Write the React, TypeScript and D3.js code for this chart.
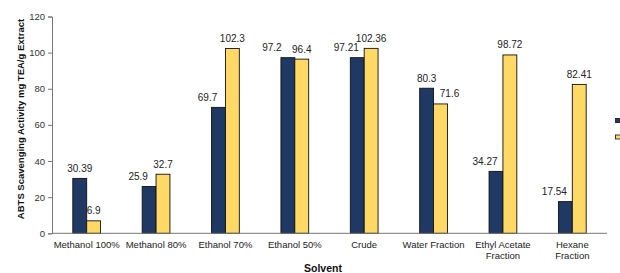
import React, { useEffect, useRef } from 'react';
import * as d3 from 'd3';

// Chart data
const solvents: string[][] = [
  ['Methanol 100%'],
  ['Methanol 80%'],
  ['Ethanol 70%'],
  ['Ethanol 50%'],
  ['Crude'],
  ['Water Fraction'],
  ['Ethyl Acetate', 'Fraction'],
  ['Hexane', 'Fraction'],
];
const seriesBlue = [30.39, 25.9, 69.7, 97.2, 97.21, 80.3, 34.27, 17.54];
const seriesYellow = [6.9, 32.7, 102.3, 96.4, 102.36, 71.6, 98.72, 82.41];
const yTicks = [0, 20, 40, 60, 80, 100, 120];

const WIDTH = 620;
const HEIGHT = 273;
const BLUE = '#1f3864';
const YELLOW = '#ffd966';
const FONT = '"Liberation Sans", Arial, sans-serif';

const App: React.FC = () => {
  const svgRef = useRef<SVGSVGElement>(null);

  useEffect(() => {
    if (!svgRef.current) return;
    const svg = d3.select(svgRef.current);
    svg.selectAll('*').remove();

    const left = 52;
    const right = 607;
    const top = 16.5;
    const bottom = 233.3;

    const x = d3.scaleBand<number>()
      .domain(d3.range(solvents.length))
      .range([left, right])
      .paddingInner(0.6)
      .paddingOuter(0.3);
    const inner = d3.scaleBand<string>()
      .domain(['blue', 'yellow'])
      .range([0, x.bandwidth()]);
    const y = d3.scaleLinear().domain([0, 120]).range([bottom, top]);

    // y axis
    const yAxis = svg.append('g')
      .attr('transform', `translate(${left},0)`)
      .call(d3.axisLeft(y).tickValues(yTicks).tickSize(4).tickPadding(3));
    yAxis.select('.domain').attr('stroke', '#777');
    yAxis.selectAll('.tick line').attr('stroke', '#777');
    yAxis.selectAll('.tick text')
      .attr('fill', '#333')
      .style('font-family', FONT)
      .style('font-size', '9.5px');

    // bars
    const groups = svg.append('g')
      .selectAll('g')
      .data(solvents.map((_, i) => i))
      .join('g')
      .attr('transform', i => `translate(${x(i)},0)`);

    const series = [
      { key: 'blue', values: seriesBlue, color: BLUE },
      { key: 'yellow', values: seriesYellow, color: YELLOW },
    ];

    series.forEach(s => {
      groups.append('rect')
        .attr('x', inner(s.key)!)
        .attr('y', i => y(s.values[i]))
        .attr('width', inner.bandwidth())
        .attr('height', i => bottom - y(s.values[i]))
        .attr('fill', s.color)
        .attr('stroke', '#111')
        .attr('stroke-width', 0.9);
    });

    // value labels, nudged apart where they would crowd each other
    const nudge = (i: number, key: string) => {
      const b = seriesBlue[i];
      const yv = seriesYellow[i];
      if (key === 'blue') {
        if (b <= yv + 1) return Math.abs(b - yv) < 2 ? -16 : -11;
        return 0;
      }
      if (b > yv + 1 && b - yv < 15) return 9;
      return 0;
    };

    series.forEach(s => {
      groups.append('text')
        .attr('x', i => inner(s.key)! + inner.bandwidth() / 2 + nudge(i, s.key))
        .attr('y', i => y(s.values[i]) - 6.5)
        .attr('text-anchor', 'middle')
        .attr('fill', '#222')
        .style('font-family', FONT)
        .style('font-size', '10px')
        .text(i => String(s.values[i]));
    });

    // x axis line
    svg.append('line')
      .attr('x1', left)
      .attr('x2', right)
      .attr('y1', bottom)
      .attr('y2', bottom)
      .attr('stroke', '#777');

    // category labels
    const cat = svg.append('g')
      .selectAll('text')
      .data(solvents)
      .join('text')
      .attr('x', (_, i) => x(i)! + x.bandwidth() / 2)
      .attr('y', 248)
      .attr('text-anchor', 'middle')
      .attr('fill', '#222')
      .style('font-family', FONT)
      .style('font-size', '9.5px');
    cat.selectAll('tspan')
      .data(d => d)
      .join('tspan')
      .attr('x', function () {
        return (this.parentNode as SVGTextElement).getAttribute('x');
      })
      .attr('dy', (_, j) => (j === 0 ? 0 : 11))
      .text(d => d);

    // axis titles
    svg.append('text')
      .attr('transform', 'translate(24,119) rotate(-90)')
      .attr('text-anchor', 'middle')
      .attr('fill', '#111')
      .style('font-family', FONT)
      .style('font-size', '9.5px')
      .style('font-weight', 'bold')
      .text('ABTS Scavenging Activity mg TEA/g Extract');

    svg.append('text')
      .attr('x', 323)
      .attr('y', 272)
      .attr('text-anchor', 'middle')
      .attr('fill', '#111')
      .style('font-family', FONT)
      .style('font-size', '10.5px')
      .style('font-weight', 'bold')
      .text('Solvent');

    // legend keys (cut off at the right edge in the reference)
    svg.append('g')
      .selectAll('rect')
      .data(series)
      .join('rect')
      .attr('x', 615.5)
      .attr('y', (_, i) => 118.5 + i * 16.5)
      .attr('width', 6)
      .attr('height', 4)
      .attr('fill', d => d.color)
      .attr('stroke', '#111')
      .attr('stroke-width', 0.8);
  }, []);

  return (
    <svg
      ref={svgRef}
      width={WIDTH}
      height={HEIGHT}
      style={{ position: 'absolute', left: 0, top: 0, background: '#fff' }}
    />
  );
};

export default App;
